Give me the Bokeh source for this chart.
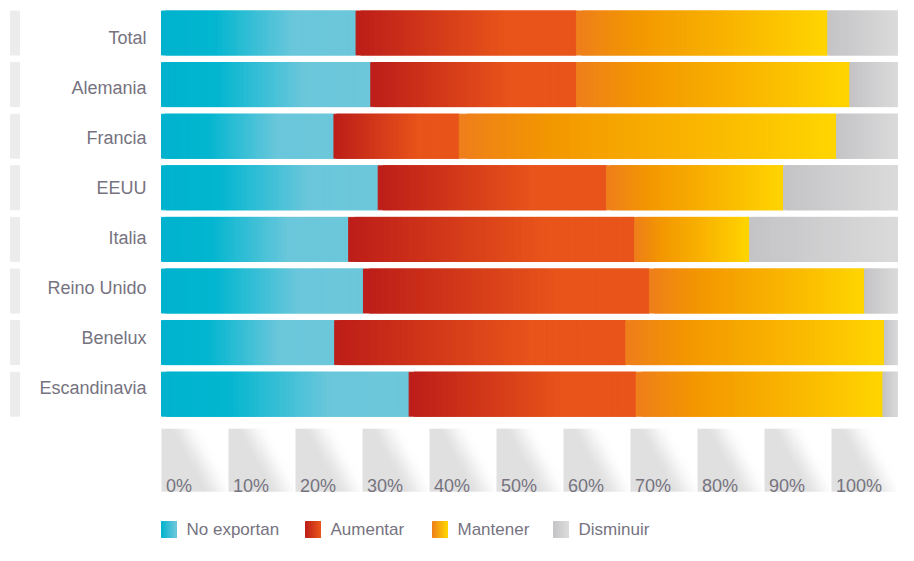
import numpy as np
from bokeh.plotting import figure
from bokeh.models import Range1d, ColumnDataSource
from bokeh.core.properties import value
from bokeh.embed import file_html
from bokeh.resources import INLINE

# ---------------- data ----------------
categories = ["Total", "Alemania", "Francia", "EEUU", "Italia", "Reino Unido", "Benelux", "Escandinavia"]
no_exportan = [26.4, 28.4, 23.4, 29.4, 25.4, 27.4, 23.5, 33.6]
aumentar = [29.9, 27.9, 17.0, 31.0, 38.8, 38.8, 39.5, 30.8]
mantener = [34.1, 37.1, 51.2, 24.0, 15.6, 29.2, 35.1, 33.5]
disminuir = [9.6, 6.6, 8.4, 15.6, 20.2, 4.6, 1.9, 2.1]
series_names = ["No exportan", "Aumentar", "Mantener", "Disminuir"]
tick_labels = ["0%", "10%", "20%", "30%", "40%", "50%", "60%", "70%", "80%", "90%", "100%"]

# ---------------- styles ----------------
GRADIENTS = [
    [(0.0, "#00b2cd"), (0.27, "#03b6d0"), (0.68, "#6bc7db"), (1.0, "#6cc7db")],
    [(0.0, "#bc1d19"), (0.68, "#e8541a"), (1.0, "#e8541a")],
    [(0.0, "#ee7e1b"), (0.25, "#f39800"), (0.6, "#f9b300"), (1.0, "#ffd500")],
    [(0.0, "#c4c3c6"), (1.0, "#dbdbdb")],
]
TEXT_COLOR = "#76737f"
FONT = "Liberation Sans"

W, H = 898, 545
X0_PX, PX_PER_PCT = 161, 7.37
ROW0_PX, ROW_PX = 32.5, 51.6
BAR_H = 44 / 51.6


def px2x(px):
    return (px - X0_PX) / PX_PER_PCT


def hex2rgb(h):
    h = h.lstrip("#")
    return np.array([int(h[i:i + 2], 16) for i in (0, 2, 4)], dtype=float)


def grad_color(stops, t):
    for (t0, c0), (t1, c1) in zip(stops[:-1], stops[1:]):
        if t <= t1:
            f = 0 if t1 == t0 else (t - t0) / (t1 - t0)
            c = hex2rgb(c0) * (1 - f) + hex2rgb(c1) * f
            return "#%02x%02x%02x" % tuple(int(round(v)) for v in c)
    return stops[-1][1]


def strips(lefts, widths, ys, stops, n=48):
    L, R, Y, C = [], [], [], []
    for l, w, y in zip(lefts, widths, ys):
        edges = np.linspace(l, l + w, n + 1)
        for k in range(n):
            L.append(edges[k])
            R.append(edges[min(k + 2, n)])
            Y.append(y)
            C.append(grad_color(stops, (k + 0.5) / n))
    return dict(left=L, right=R, y=Y, color=C)


# rows go downward: row i sits at y = -i
p = figure(width=W, height=H, output_backend="svg", toolbar_location=None,
           x_range=Range1d(px2x(0), px2x(W)),
           y_range=Range1d(-(H - ROW0_PX) / ROW_PX, ROW0_PX / ROW_PX),
           min_border=0)
p.axis.visible = False
p.grid.visible = False
p.outline_line_color = None
p.background_fill_color = "white"
p.border_fill_color = "white"

rows = [-i for i in range(len(categories))]

# left grey stripes
p.hbar(y=rows, left=px2x(10), right=px2x(19), height=BAR_H, color="#ececec")

# stacked bars with gradient fills
series = [no_exportan, aumentar, mantener, disminuir]
starts = np.zeros(len(categories))
for vals, stops in zip(series, GRADIENTS):
    vals = np.array(vals, dtype=float)
    src = ColumnDataSource(strips(starts, vals, rows, stops))
    p.hbar(y="y", left="left", right="right", height=BAR_H, color="color", source=src)
    starts = starts + vals

# category labels
label_shift = [4.5 - 1.56 * i for i in range(len(categories))]
p.text(x=0, y=rows, text=categories, text_align="right", text_baseline="middle",
       x_offset=-15, y_offset=label_shift, text_font=value(FONT),
       text_font_size="18px", text_color=TEXT_COLOR)

# tick blocks (diagonal grey gradient)
n_t = len(tick_labels)
period = 100.0 / n_t
block_w = period - 2.0 / PX_PER_PCT
block_y = -8.279
block_h = 63 / ROW_PX
bh, bw = 32, 64
u = np.linspace(0, 1, bw)[None, :]
v_top = np.linspace(1, 0, bh)[:, None]  # array row 0 = bottom of block
t = u - 0.5 * v_top
wgt = np.clip((t - 0.1) / 0.5, 0, 1)
wgt = wgt * wgt * (3 - 2 * wgt)
g = (224 + (255 - 224) * wgt).astype(np.uint8)
img = np.empty((bh, bw), dtype=np.uint32)
view = img.view(dtype=np.uint8).reshape((bh, bw, 4))
view[..., 0] = g
view[..., 1] = g
view[..., 2] = g
view[..., 3] = 255
block_x = [i * period + block_w / 2 for i in range(n_t)]
p.image_rgba(image=[img] * n_t, x=block_x, y=[block_y] * n_t, dw=[block_w] * n_t,
             dh=[block_h] * n_t, anchor="center")
p.text(x=[i * period for i in range(n_t)], y=block_y - block_h / 2, text=tick_labels,
       x_offset=4.5, y_offset=-6, text_baseline="alphabetic", text_align="left",
       text_font=value(FONT), text_font_size="18px", text_color=TEXT_COLOR)

# legend
legend_y = -(529 - ROW0_PX) / ROW_PX
swatch_px = [161, 305, 432, 553]
sw_h = 16 / ROW_PX
for name, stops, sx in zip(series_names, GRADIENTS, swatch_px):
    src = ColumnDataSource(strips([px2x(sx)], [15 / PX_PER_PCT], [legend_y],
                                  [(0, stops[0][1]), (1, stops[-1][1])], n=15))
    p.hbar(y="y", left="left", right="right", height=sw_h, color="color", source=src)
p.text(x=[px2x(sx + 25) for sx in swatch_px], y=legend_y, text=series_names,
       text_baseline="middle", text_align="left",
       text_font=value(FONT), text_font_size="17px", text_color=TEXT_COLOR)

open("out.html", "w").write(file_html(p, INLINE))
